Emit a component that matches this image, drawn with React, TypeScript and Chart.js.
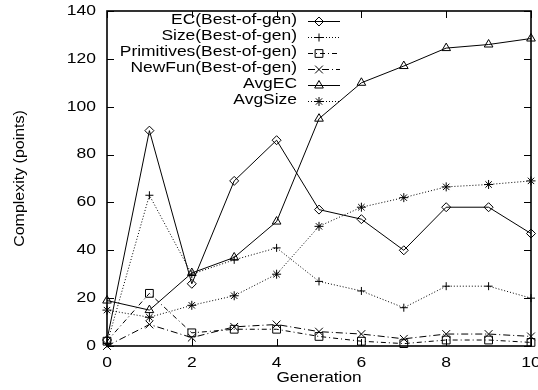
import React, { useEffect, useRef } from "react";
import { Chart, registerables } from "chart.js";
import { drawPoint } from "chart.js/helpers";

Chart.register(...registerables);

const generations = [0, 1, 2, 3, 4, 5, 6, 7, 8, 9, 10];
const ecBest = [2.5, 90, 26, 69, 86, 57, 53, 40, 58, 58, 47];
const sizeBest = [1, 63, 30, 36, 41, 27, 23, 16, 25, 25, 20];
const primBest = [2, 22, 5.5, 7, 7, 4, 2, 1, 2.5, 2.5, 1.5];
const newFunBest = [0, 9, 3.5, 8, 9, 6, 5, 3, 5, 5, 4];
const avgEC = [19, 15, 30.5, 37, 52, 95, 110, 117, 124.5, 126, 128.5];
const avgSize = [15, 12, 17, 21, 30, 50, 58, 62, 66.5, 67.5, 69];

const seriesNames = [
  "EC(Best-of-gen)",
  "Size(Best-of-gen)",
  "Primitives(Best-of-gen)",
  "NewFun(Best-of-gen)",
  "AvgEC",
  "AvgSize",
];
const xTitle = "Generation";
const yTitle = "Complexity (points)";

const FONT = "14px 'Liberation Sans', Arial, sans-serif";
const STRETCH = 1.25;

function drawText(
  ctx: CanvasRenderingContext2D,
  text: string,
  x: number,
  y: number,
  align: CanvasTextAlign,
  sx: number,
  rot = 0
) {
  ctx.save();
  ctx.translate(x, y);
  if (rot) ctx.rotate(rot);
  ctx.scale(sx, 1);
  ctx.font = FONT;
  ctx.fillStyle = "#000";
  ctx.textAlign = align;
  ctx.textBaseline = "middle";
  ctx.fillText(text, 0, 0);
  ctx.restore();
}

const framePlugin = {
  id: "gnuFrame",
  beforeDatasetsDraw(chart: any) {
    const ctx = chart.ctx as CanvasRenderingContext2D;
    const { left, right, top, bottom } = chart.chartArea;
    const xs = chart.scales.x;
    const ys = chart.scales.y;
    ctx.save();
    ctx.strokeStyle = "#000";
    ctx.lineWidth = 1;
    ctx.setLineDash([]);
    const tl = 7;
    ctx.beginPath();
    for (const t of xs.ticks) {
      const px = Math.round(xs.getPixelForValue(t.value)) + 0.5;
      ctx.moveTo(px, bottom);
      ctx.lineTo(px, bottom - tl);
      ctx.moveTo(px, top);
      ctx.lineTo(px, top + tl);
    }
    for (const t of ys.ticks) {
      const py = Math.round(ys.getPixelForValue(t.value)) + 0.5;
      ctx.moveTo(left, py);
      ctx.lineTo(left + tl, py);
      ctx.moveTo(right, py);
      ctx.lineTo(right - tl, py);
    }
    ctx.stroke();
    ctx.lineWidth = 1.6;
    ctx.strokeRect(left, top, right - left, bottom - top);
    ctx.restore();
  },
  afterDraw(chart: any) {
    const ctx = chart.ctx as CanvasRenderingContext2D;
    const { left, right, top, bottom } = chart.chartArea;
    const xs = chart.scales.x;
    const ys = chart.scales.y;
    for (const t of xs.ticks) {
      drawText(ctx, String(t.value), xs.getPixelForValue(t.value), bottom + 17, "center", STRETCH);
    }
    for (const t of ys.ticks) {
      drawText(ctx, String(t.value), left - 11, ys.getPixelForValue(t.value), "right", STRETCH);
    }
    drawText(ctx, xTitle, (left + right) / 2, bottom + 32, "center", 1.23);
    drawText(ctx, yTitle, 20, (top + bottom) / 2, "center", 1.14, -Math.PI / 2);

    // legend
    const textRight = 297;
    const lineX0 = 308;
    const lineX1 = 340;
    const markX = 319;
    chart.data.datasets.forEach((ds: any, i: number) => {
      const y = 20.5 + i * 16;
      drawText(ctx, ds.label, textRight, y, "right", 1.245);
      ctx.save();
      ctx.strokeStyle = ds.borderColor;
      ctx.lineWidth = ds.borderWidth;
      ctx.setLineDash(ds.borderDash || []);
      ctx.beginPath();
      ctx.moveTo(lineX0, Math.round(y) + 0.5);
      ctx.lineTo(lineX1, Math.round(y) + 0.5);
      ctx.stroke();
      ctx.setLineDash([]);
      ctx.strokeStyle = "#000";
      ctx.fillStyle = "rgba(0,0,0,0)";
      ctx.lineWidth = 1;
      drawPoint(ctx, { pointStyle: ds.pointStyle, radius: ds.pointRadius, rotation: 0, borderWidth: 1 } as any, markX, Math.round(y) + 0.5);
      ctx.restore();
    });
  },
};

function mk(label: string, data: number[], style: string, radius: number, dash: number[]) {
  return {
    label,
    data: data.map((v, i) => ({ x: generations[i], y: v })),
    borderColor: "#000",
    backgroundColor: "rgba(0,0,0,0)",
    borderWidth: 1,
    borderDash: dash,
    pointStyle: style,
    pointRadius: radius,
    pointBorderColor: "#000",
    pointBackgroundColor: "rgba(0,0,0,0)",
    pointBorderWidth: 1,
    tension: 0,
    fill: false,
    clip: false,
  };
}

export default function App() {
  const ref = useRef<HTMLCanvasElement | null>(null);
  useEffect(() => {
    if (!ref.current) return;
    const chart = new Chart(ref.current, {
      type: "line",
      data: {
        datasets: [
          mk(seriesNames[0], ecBest, "rectRot", 4.5, []),
          mk(seriesNames[1], sizeBest, "cross", 4, [1, 2]),
          mk(seriesNames[2], primBest, "rect", 5.5, [5, 3, 1, 3]),
          mk(seriesNames[3], newFunBest, "crossRot", 5.5, [7, 3, 1, 3]),
          mk(seriesNames[4], avgEC, "triangle", 5, []),
          mk(seriesNames[5], avgSize, "star", 4.5, [1, 2]),
        ] as any,
      },
      options: {
        animation: false,
        responsive: false,
        maintainAspectRatio: false,
        devicePixelRatio: 1,
        layout: { padding: { left: 107, right: 7, top: 11, bottom: 44 } },
        plugins: { legend: { display: false }, tooltip: { enabled: false } },
        scales: {
          x: {
            type: "linear",
            min: 0,
            max: 10,
            ticks: { stepSize: 2, display: false },
            grid: { display: false, drawTicks: false },
            border: { display: false },
          },
          y: {
            type: "linear",
            min: 0,
            max: 140,
            ticks: { stepSize: 20, display: false },
            grid: { display: false, drawTicks: false },
            border: { display: false },
          },
        },
      },
      plugins: [framePlugin],
    });
    return () => chart.destroy();
  }, []);
  return (
    <div style={{ position: "fixed", left: 0, top: 0, width: 538, height: 390, background: "#fff" }}>
      <canvas ref={ref} width={538} height={390} style={{ width: 538, height: 390 }} />
    </div>
  );
}
